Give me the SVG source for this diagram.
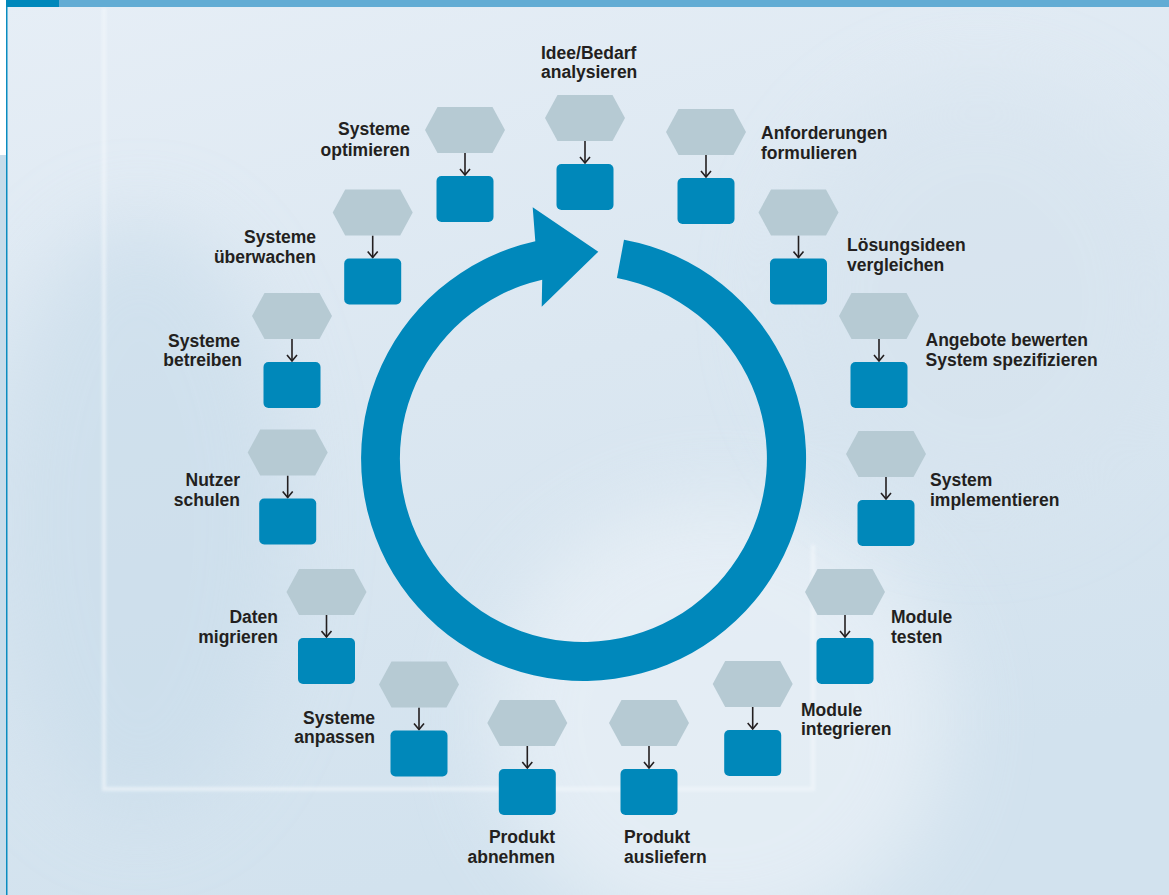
<svg xmlns="http://www.w3.org/2000/svg" width="1169" height="895" viewBox="0 0 1169 895">
<defs>
  <linearGradient id="bg" x1="0" y1="0" x2="0.3" y2="1">
    <stop offset="0" stop-color="#e6eef6"/>
    <stop offset="0.5" stop-color="#dbe7f1"/>
    <stop offset="1" stop-color="#d2e2ee"/>
  </linearGradient>
  <filter id="blur" x="-50%" y="-50%" width="200%" height="200%">
    <feGaussianBlur stdDeviation="40"/>
  </filter>
  <filter id="blur2" x="-10%" y="-10%" width="120%" height="120%">
    <feGaussianBlur stdDeviation="1.5"/>
  </filter>
  <marker id="chev" viewBox="0 0 8 12" refX="7" refY="6" markerWidth="8" markerHeight="12" markerUnits="userSpaceOnUse" orient="auto">
    <path d="M1,1 L7,6 L1,11" fill="none" stroke="#231f20" stroke-width="1.6"/>
  </marker>
  <polygon id="hexShape" points="0,23 12.5,0 67.5,0 80,23 67.5,46 12.5,46"/>
</defs>
<style>
  .hex { fill: #b6cad3; }
  .box { fill: #0088ba; }
  .lbl { font-family: "Liberation Sans", Arial, sans-serif; font-weight: bold; font-size: 17.5px; fill: #231f20; }
  .end { text-anchor: end; }
  .conn line { stroke: #231f20; stroke-width: 1.6; marker-end: url(#chev); }
</style>

<!-- background -->
<rect x="0" y="0" width="1169" height="895" fill="url(#bg)"/>
<ellipse cx="720" cy="720" rx="230" ry="220" fill="#f2f6fa" opacity="0.55" filter="url(#blur)"/>
<ellipse cx="140" cy="520" rx="150" ry="300" fill="#c8dcea" opacity="0.6" filter="url(#blur)"/>
<ellipse cx="980" cy="300" rx="200" ry="220" fill="#d6e3ee" opacity="0.5" filter="url(#blur)"/>
<path d="M104,8 V789 H813 V545" fill="none" stroke="#f4f8fc" stroke-width="4" opacity="0.6" filter="url(#blur2)"/>
<rect x="0" y="0" width="6" height="155" fill="#ffffff"/>
<rect x="0" y="155" width="6" height="740" fill="#c6dcea"/>
<rect x="6" y="0" width="1.5" height="895" fill="#0a8cc0"/>
<rect x="6" y="0" width="53" height="7" fill="#0088bb"/>
<rect x="59" y="0" width="1110" height="7" fill="#62acd4"/>

<!-- cycle arrow -->
<g id="cycle">
  <path fill="#0088bb" d="M624,239.7 A222.5,222.5 0 1 1 535.3,241.3 L532.7,207.3 L598.3,251.7 L541.7,306.7 L542.2,279.7 A183.5,183.5 0 1 0 616.9,278.1 Z"/>
</g>

<!-- connectors -->
<g id="connectors" class="conn">
  <line x1="585" y1="141" x2="585" y2="163"/>
  <line x1="706" y1="155" x2="706" y2="177"/>
  <line x1="798.5" y1="235.5" x2="798.5" y2="257.5"/>
  <line x1="879" y1="339" x2="879" y2="361"/>
  <line x1="886" y1="477" x2="886" y2="499"/>
  <line x1="845" y1="615" x2="845" y2="637"/>
  <line x1="752.7" y1="707" x2="752.7" y2="729"/>
  <line x1="649" y1="746" x2="649" y2="768"/>
  <line x1="527.3" y1="746" x2="527.3" y2="768"/>
  <line x1="419" y1="707.5" x2="419" y2="729.5"/>
  <line x1="326.5" y1="615" x2="326.5" y2="637"/>
  <line x1="287.7" y1="475.5" x2="287.7" y2="497.5"/>
  <line x1="292" y1="339" x2="292" y2="361"/>
  <line x1="372.7" y1="235.5" x2="372.7" y2="257.5"/>
  <line x1="465" y1="153" x2="465" y2="175"/>
</g>

<!-- nodes -->
<g id="n1">
  <use href="#hexShape" class="hex" x="545" y="95"/>
  <rect class="box" x="556.5" y="164" width="57" height="46" rx="5"/>
  <text class="lbl" x="541" y="59">Idee/Bedarf</text>
  <text class="lbl" x="541" y="78">analysieren</text>
</g>
<g id="n2">
  <use href="#hexShape" class="hex" x="666" y="109"/>
  <rect class="box" x="677.5" y="178" width="57" height="46" rx="5"/>
  <text class="lbl" x="761" y="139">Anforderungen</text>
  <text class="lbl" x="761" y="159">formulieren</text>
</g>
<g id="n3">
  <use href="#hexShape" class="hex" x="758.5" y="189.5"/>
  <rect class="box" x="770" y="258.5" width="57" height="46" rx="5"/>
  <text class="lbl" x="847" y="251">Lösungsideen</text>
  <text class="lbl" x="847" y="271">vergleichen</text>
</g>
<g id="n4">
  <use href="#hexShape" class="hex" x="839" y="293"/>
  <rect class="box" x="850.5" y="362" width="57" height="46" rx="5"/>
  <text class="lbl" x="925.5" y="346">Angebote bewerten</text>
  <text class="lbl" x="925.5" y="366">System spezifizieren</text>
</g>
<g id="n5">
  <use href="#hexShape" class="hex" x="846" y="431"/>
  <rect class="box" x="857.5" y="500" width="57" height="46" rx="5"/>
  <text class="lbl" x="930" y="486">System</text>
  <text class="lbl" x="930" y="506">implementieren</text>
</g>
<g id="n6">
  <use href="#hexShape" class="hex" x="805" y="569"/>
  <rect class="box" x="816.5" y="638" width="57" height="46" rx="5"/>
  <text class="lbl" x="891" y="623">Module</text>
  <text class="lbl" x="891" y="643">testen</text>
</g>
<g id="n7">
  <use href="#hexShape" class="hex" x="712.7" y="661"/>
  <rect class="box" x="724.2" y="730" width="57" height="46" rx="5"/>
  <text class="lbl" x="801" y="716">Module</text>
  <text class="lbl" x="801" y="735">integrieren</text>
</g>
<g id="n8">
  <use href="#hexShape" class="hex" x="609" y="700"/>
  <rect class="box" x="620.5" y="769" width="57" height="46" rx="5"/>
  <text class="lbl" x="624" y="843">Produkt</text>
  <text class="lbl" x="624" y="863">ausliefern</text>
</g>
<g id="n9">
  <use href="#hexShape" class="hex" x="487.3" y="700"/>
  <rect class="box" x="498.8" y="769" width="57" height="46" rx="5"/>
  <text class="lbl end" x="555" y="843">Produkt</text>
  <text class="lbl end" x="555" y="863">abnehmen</text>
</g>
<g id="n10">
  <use href="#hexShape" class="hex" x="379" y="661.5"/>
  <rect class="box" x="390.5" y="730.5" width="57" height="46" rx="5"/>
  <text class="lbl end" x="375" y="724">Systeme</text>
  <text class="lbl end" x="375" y="743">anpassen</text>
</g>
<g id="n11">
  <use href="#hexShape" class="hex" x="286.5" y="569"/>
  <rect class="box" x="298" y="638" width="57" height="46" rx="5"/>
  <text class="lbl end" x="278" y="623">Daten</text>
  <text class="lbl end" x="278" y="643">migrieren</text>
</g>
<g id="n12">
  <use href="#hexShape" class="hex" x="247.7" y="429.5"/>
  <rect class="box" x="259.2" y="498.5" width="57" height="46" rx="5"/>
  <text class="lbl end" x="240" y="486">Nutzer</text>
  <text class="lbl end" x="240" y="506">schulen</text>
</g>
<g id="n13">
  <use href="#hexShape" class="hex" x="252" y="293"/>
  <rect class="box" x="263.5" y="362" width="57" height="46" rx="5"/>
  <text class="lbl end" x="240" y="347">Systeme</text>
  <text class="lbl end" x="242" y="366">betreiben</text>
</g>
<g id="n14">
  <use href="#hexShape" class="hex" x="332.7" y="189.5"/>
  <rect class="box" x="344.2" y="258.5" width="57" height="46" rx="5"/>
  <text class="lbl end" x="316" y="243">Systeme</text>
  <text class="lbl end" x="316" y="263">überwachen</text>
</g>
<g id="n15">
  <use href="#hexShape" class="hex" x="425" y="107"/>
  <rect class="box" x="436.5" y="176" width="57" height="46" rx="5"/>
  <text class="lbl end" x="410" y="135">Systeme</text>
  <text class="lbl end" x="410" y="156">optimieren</text>
</g>
</svg>
